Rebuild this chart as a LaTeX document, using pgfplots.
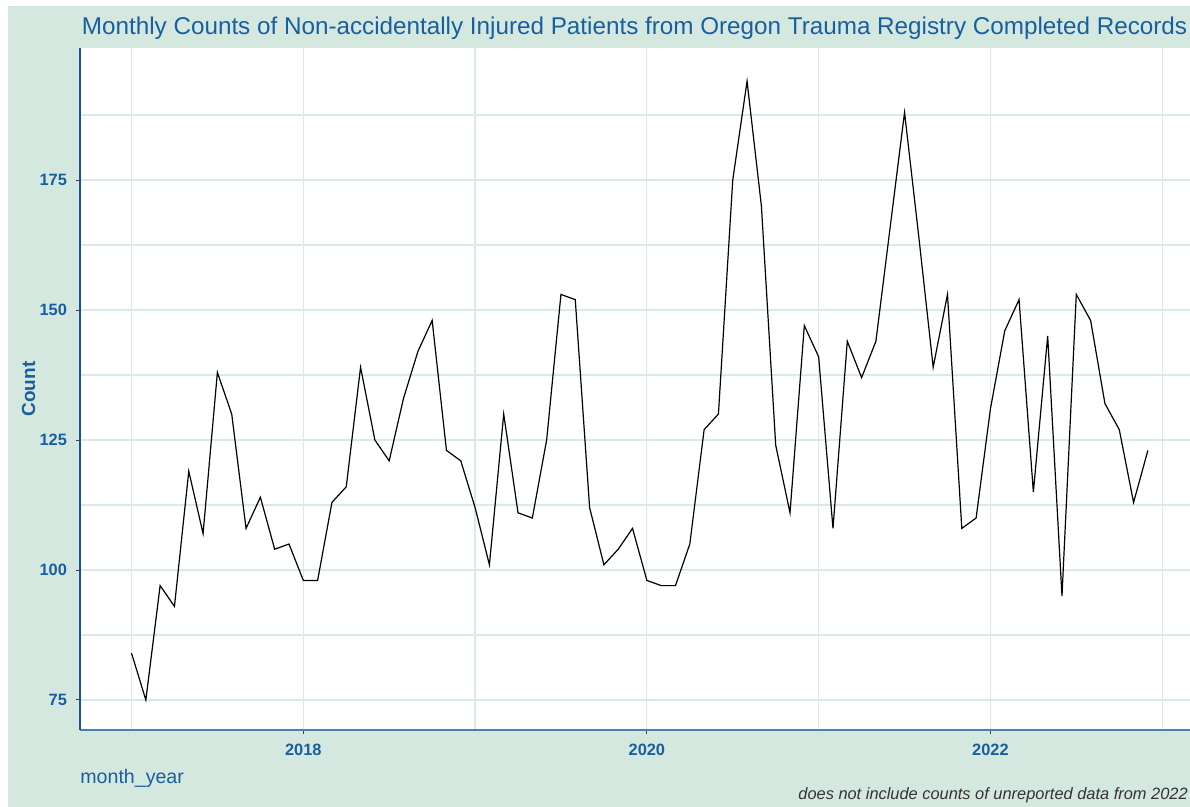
\documentclass[border=0pt]{standalone}
\usepackage{fontspec}
\setmainfont{Liberation Sans}
\usepackage{pgfplots}
\pgfplotsset{compat=1.18}
\usepackage{pgfplotstable}
\definecolor{bg}{RGB}{213,232,224}
\definecolor{ttl}{RGB}{24,95,160}
\definecolor{gridc}{RGB}{218,234,230}
\definecolor{yaxc}{RGB}{30,80,150}
\definecolor{xaxc}{RGB}{70,130,180}
\definecolor{capc}{RGB}{51,51,51}

\pgfplotstableread{
year month count
2017 1 84
2017 2 75
2017 3 97
2017 4 93
2017 5 119
2017 6 107
2017 7 138
2017 8 130
2017 9 108
2017 10 114
2017 11 104
2017 12 105
2018 1 98
2018 2 98
2018 3 113
2018 4 116
2018 5 139
2018 6 125
2018 7 121
2018 8 133
2018 9 142
2018 10 148
2018 11 123
2018 12 121
2019 1 112
2019 2 101
2019 3 130
2019 4 111
2019 5 110
2019 6 125
2019 7 153
2019 8 152
2019 9 112
2019 10 101
2019 11 104
2019 12 108
2020 1 98
2020 2 97
2020 3 97
2020 4 105
2020 5 127
2020 6 130
2020 7 175
2020 8 194
2020 9 170
2020 10 124
2020 11 111
2020 12 147
2021 1 141
2021 2 108
2021 3 144
2021 4 137
2021 5 144
2021 6 166
2021 7 188
2021 8 164
2021 9 139
2021 10 153
2021 11 108
2021 12 110
2022 1 131
2022 2 146
2022 3 152
2022 4 115
2022 5 145
2022 6 95
2022 7 153
2022 8 148
2022 9 132
2022 10 127
2022 11 113
2022 12 123
}\counts

\begin{document}
\begin{tikzpicture}
\clip (0,0) rectangle (595pt,403.5pt);
\fill[white] (0,0) rectangle (595pt,403.5pt);
\fill[bg] (4pt,0) rectangle (600pt,400.5pt);
\begin{axis}[
  at={(40pt,38.5pt)}, anchor=south west,
  width=560pt, height=341pt, scale only axis,
  xmin=2016.70, xmax=2023.22,
  ymin=69.23, ymax=200.4,
  axis background/.style={fill=white},
  axis x line*=bottom, axis y line*=left,
  x axis line style={-, draw=xaxc, line width=0.9pt},
  y axis line style={-, draw=yaxc, line width=0.9pt},
  xtick={2018,2020,2022},
  minor xtick={2017,2019,2021,2023},
  ytick={75,100,125,150,175},
  minor ytick={87.5,112.5,137.5,162.5,187.5},
  grid=both,
  major grid style={draw=gridc, line width=0.6pt},
  minor grid style={draw=gridc, line width=0.6pt},
  tick align=outside,
  major tick length=2pt, minor tick length=0pt,
  tick style={draw=black!75, line width=0.5pt},
  /pgf/number format/assume math mode=true,
  /pgf/number format/1000 sep={},
  ticklabel style={font=\fontsize{8.2}{10}\selectfont\bfseries, text=ttl},
  xticklabel style={yshift=-1.5pt},
  yticklabel style={xshift=-1pt},
  clip=false,
]
\addplot[black, line width=0.6pt] table[x expr={\thisrow{year}+(\thisrow{month}-1)/12}, y=count] {\counts};
\end{axis}
\node[anchor=base west, inner sep=0, text=ttl, font=\fontsize{12.12}{14}\selectfont] at (40.8pt,386.4pt) {Monthly Counts of Non-accidentally Injured Patients from Oregon Trauma Registry Completed Records};
\node[anchor=base, inner sep=0, rotate=90, text=ttl, font=\fontsize{9.5}{11}\selectfont\bfseries] at (17.5pt,209pt) {Count};
\node[anchor=base west, inner sep=0, text=ttl, font=\fontsize{9.8}{12}\selectfont] at (40pt,11.5pt) {month\_year};
\node[anchor=base west, inner sep=0, text=capc, font=\fontsize{8.2}{10}\selectfont\itshape] at (399pt,3.5pt) {does not include counts of unreported data from 2022};
\end{tikzpicture}
\end{document}
